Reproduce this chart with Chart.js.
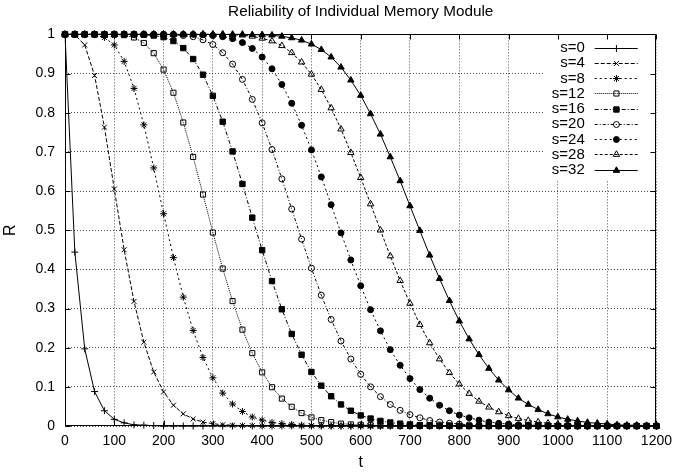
<!DOCTYPE html>
<html>
<head>
<meta charset="utf-8">
<script src="https://cdn.jsdelivr.net/npm/chart.js@4/dist/chart.umd.min.js"></script>
<style>
html,body{margin:0;padding:0;background:#fff;}
canvas{display:block;}
</style>
</head>
<body>
<canvas id="c" width="679" height="476"></canvas>
<script>
// ---- data ----
const T = [0,20,40,60,80,100,120,140,160,180,200,220,240,260,280,300,320,340,360,380,400,
  420,440,460,480,500,520,540,560,580,600,620,640,660,680,700,720,740,760,780,800,
  820,840,860,880,900,920,940,960,980,1000,1020,1040,1060,1080,1100,1120,1140,1160,1180,1200];

const seriesLabels = ["s=0","s=4","s=8","s=12","s=16","s=20","s=24","s=28","s=32"];

const S0 = [1,0.444,0.197,0.088,0.039,0.017,0.008,0.003,0.002,0.001,
  0,0,0,0,0,0,0,0,0,0,0,0,0,0,0,0,0,0,0,0,0,0,0,0,0,0,0,0,0,0,0,0,0,0,0,0,0,0,0,0,0,0,0,0,0,0,0,0,0,0,0];
const S4 = [1,0.999,0.973,0.895,0.763,0.605,0.450,0.318,0.214,0.138,0.087,0.053,0.031,0.018,0.010,0.006,0.003,0.002,0.001,0.001,
  0,0,0,0,0,0,0,0,0,0,0,0,0,0,0,0,0,0,0,0,0,0,0,0,0,0,0,0,0,0,0,0,0,0,0,0,0,0,0,0,0];
const S8 = [1,1,1,0.999,0.992,0.973,0.931,0.862,0.769,0.659,0.542,0.430,0.329,0.244,0.175,0.123,0.084,0.056,0.037,0.023,
  0.015,0.009,0.006,0.004,0.002,0.001,0.001,
  0,0,0,0,0,0,0,0,0,0,0,0,0,0,0,0,0,0,0,0,0,0,0,0,0,0,0,0,0,0,0,0,0,0,0];
const S12 = [1,1,1,1,1,1,0.998,0.992,0.978,0.952,0.910,0.851,0.775,0.687,0.591,0.494,0.402,0.319,0.246,0.186,
  0.137,0.099,0.070,0.049,0.033,0.022,0.015,0.010,0.006,0.004,0.003,0.002,0.001,0.001,
  0,0,0,0,0,0,0,0,0,0,0,0,0,0,0,0,0,0,0,0,0,0,0,0,0,0,0];
const S16 = [1,1,1,1,1,1,1,1,0.999,0.997,0.993,0.983,0.965,0.937,0.897,0.843,0.777,0.701,0.618,0.532,
  0.449,0.370,0.298,0.235,0.182,0.138,0.103,0.076,0.055,0.039,0.027,0.019,0.013,0.009,0.006,0.004,0.002,0.002,0.001,0.001,
  0,0,0,0,0,0,0,0,0,0,0,0,0,0,0,0,0,0,0,0,0];
const S20 = [1,1,1,1,1,1,1,1,1,1,1,0.999,0.997,0.994,0.986,0.974,0.953,0.924,0.885,0.834,
  0.774,0.706,0.631,0.554,0.477,0.403,0.334,0.272,0.217,0.171,0.132,0.100,0.075,0.055,0.040,0.029,0.021,0.014,0.010,0.007,
  0.005,0.003,0.002,0.001,0.001,
  0,0,0,0,0,0,0,0,0,0,0,0,0,0,0,0];
const S24 = [1,1,1,1,1,1,1,1,1,1,1,1,1,1,0.999,0.997,0.994,0.989,0.979,0.964,
  0.942,0.912,0.872,0.824,0.768,0.705,0.636,0.565,0.493,0.424,0.358,0.297,0.243,0.195,0.155,0.121,0.093,0.071,0.053,0.039,
  0.028,0.021,0.015,0.010,0.007,0.005,0.003,0.002,0.002,0.001,
  0,0,0,0,0,0,0,0,0,0,0];
const S28 = [1,1,1,1,1,1,1,1,1,1,1,1,1,1,1,1,1,0.999,0.998,0.995,
  0.990,0.983,0.971,0.953,0.929,0.898,0.859,0.812,0.758,0.698,0.634,0.567,0.500,0.434,0.371,0.313,0.259,0.212,0.171,0.136,
  0.107,0.083,0.063,0.048,0.036,0.026,0.019,0.014,0.010,0.007,0.005,0.004,0.002,0.002,0.001,
  0,0,0,0,0,0];
const S32 = [1,1,1,1,1,1,1,1,1,1,1,1,1,1,1,1,1,1,1,0.999,
  0.999,0.998,0.995,0.991,0.985,0.975,0.961,0.942,0.916,0.883,0.844,0.797,0.745,0.687,0.626,0.562,0.499,0.436,0.376,0.320,
  0.268,0.222,0.182,0.147,0.117,0.092,0.071,0.055,0.042,0.031,0.023,0.017,0.013,0.009,0.007,0.005,0.003,0.002,0.002,0.001,0.001];

const xTicks = [0,100,200,300,400,500,600,700,800,900,1000,1100,1200];
const yTicks = [0,0.1,0.2,0.3,0.4,0.5,0.6,0.7,0.8,0.9,1];

// ---- styles ----
const seriesValues = [S0,S4,S8,S12,S16,S20,S24,S28,S32];
const styles = [
  {ps:'cross',    r:3.5, fill:'rgba(0,0,0,0)', dash:[]},
  {ps:'crossRot', r:3.5, fill:'rgba(0,0,0,0)', dash:[4,2]},
  {ps:'star',     r:3.5, fill:'rgba(0,0,0,0)', dash:[2,3]},
  {ps:'rect',     r:3.6, fill:'rgba(0,0,0,0)', dash:[1,1]},
  {ps:'rect',     r:3.8, fill:'#000',          dash:[4,2,1,2]},
  {ps:'circle',   r:3.0, fill:'rgba(0,0,0,0)', dash:[3,2,1,2]},
  {ps:'circle',   r:3.0, fill:'#000',          dash:[2,3]},
  {ps:'triangle', r:3.7, fill:'rgba(0,0,0,0)', dash:[3,2]},
  {ps:'triangle', r:3.7, fill:'#000',          dash:[]}
];

const datasets = seriesValues.map((vals, i) => ({
  label: seriesLabels[i],
  data: T.map((t, j) => ({x: t, y: vals[j]})),
  borderColor: '#000',
  borderWidth: 1,
  borderDash: styles[i].dash,
  pointStyle: styles[i].ps,
  pointRadius: styles[i].r,
  pointBorderWidth: 1,
  pointBorderColor: '#000',
  pointBackgroundColor: styles[i].fill,
  tension: 0,
  fill: false,
  clip: false
}));

const FONT = '"Liberation Sans", Arial, Helvetica, sans-serif';
Chart.defaults.font.family = FONT;
Chart.defaults.color = '#000';

const gpPlugin = {
  id: 'gnuplotFrame',
  afterLayout(chart) {
    // centre the title over the plot area, as gnuplot does
    const tb = chart.titleBlock, ca = chart.chartArea;
    if (tb && ca) {
      tb.left = ca.left;
      tb.right = ca.right;
      tb.width = ca.right - ca.left;
    }
  },
  afterDatasetsDraw(chart) {
    const {ctx, chartArea: ca} = chart;
    const xs = chart.scales.x, ys = chart.scales.y;
    ctx.save();
    // legend (opaque key box)
    ctx.fillStyle = '#fff';
    ctx.fillRect(ca.right - 112, ca.top, 112, 145);
    ctx.font = '15px ' + FONT;
    ctx.textAlign = 'right';
    ctx.textBaseline = 'middle';
    chart.data.datasets.forEach((ds, i) => {
      const y = ca.top + 13.2 + i * 15.25;
      ctx.fillStyle = '#000';
      ctx.fillText(ds.label, ca.right - 71.7, y + 0.5);
      ctx.strokeStyle = '#000';
      ctx.lineWidth = 1;
      ctx.setLineDash(ds.borderDash || []);
      const ly = Math.round(y) + 0.5;
      ctx.beginPath();
      ctx.moveTo(ca.right - 61.7, ly);
      ctx.lineTo(ca.right - 18.7, ly);
      ctx.stroke();
      ctx.setLineDash([]);
      ctx.fillStyle = ds.pointBackgroundColor;
      ctx.strokeStyle = ds.pointBorderColor;
      ctx.lineWidth = ds.pointBorderWidth;
      if (Chart.helpers && Chart.helpers.drawPoint) {
        Chart.helpers.drawPoint(ctx, {pointStyle: ds.pointStyle, radius: ds.pointRadius, borderWidth: ds.pointBorderWidth, rotation: 0}, ca.right - 40, ly);
      }
    });
    // frame
    ctx.setLineDash([]);
    ctx.strokeStyle = '#000';
    ctx.lineWidth = 1;
    const L = Math.round(ca.left) + 0.5, R = Math.round(ca.right) - 0.5;
    const Tp = Math.round(ca.top) + 0.5, B = Math.round(ca.bottom) - 0.5;
    ctx.strokeRect(L, Tp, R - L, B - Tp);
    // inward ticks on all four sides
    const tl = 5;
    ctx.beginPath();
    xTicks.forEach(v => {
      const x = Math.round(xs.getPixelForValue(v)) + 0.5;
      ctx.moveTo(x, B); ctx.lineTo(x, B - tl);
      ctx.moveTo(x, Tp); ctx.lineTo(x, Tp + tl);
    });
    yTicks.forEach(v => {
      const y = Math.round(ys.getPixelForValue(v)) + 0.5;
      ctx.moveTo(L, y); ctx.lineTo(L + tl, y);
      ctx.moveTo(R, y); ctx.lineTo(R - tl, y);
    });
    ctx.stroke();
    ctx.restore();
  }
};

new Chart(document.getElementById('c'), {
  type: 'line',
  data: {datasets},
  options: {
    responsive: false,
    animation: false,
    devicePixelRatio: 1,
    layout: {padding: {left: 0, right: 17.3, top: 0, bottom: 0}},
    plugins: {
      legend: {display: false},
      tooltip: {enabled: false},
      title: {
        display: true,
        text: 'Reliability of Individual Memory Module',
        color: '#000',
        font: {size: 15.3, weight: 'normal', family: FONT},
        padding: {top: 2.6, bottom: 13.4}
      }
    },
    scales: {
      x: {
        type: 'linear',
        min: 0, max: 1200,
        afterBuildTicks: s => { s.ticks = xTicks.map(v => ({value: v})); },
        afterFit: s => { s.height = 50; },
        ticks: {font: {size: 14}, color: '#000', padding: 7, maxRotation: 0, autoSkip: false, callback: v => String(v)},
        grid: {color: 'rgba(0,0,0,0.7)', lineWidth: 1, drawTicks: false},
        border: {display: false, dash: [1, 2]},
        title: {display: true, text: 't', font: {size: 16}, color: '#000', padding: {top: 0, bottom: 4}}
      },
      y: {
        type: 'linear',
        min: 0, max: 1,
        afterBuildTicks: s => { s.ticks = yTicks.map(v => ({value: v})); },
        afterFit: s => { s.width = 65; },
        ticks: {font: {size: 14}, color: '#000', padding: 10, callback: v => String(+v.toFixed(1))},
        grid: {color: 'rgba(0,0,0,0.7)', lineWidth: 1, drawTicks: false},
        border: {display: false, dash: [1, 2]},
        title: {display: true, text: 'R', font: {size: 16}, color: '#000', padding: {top: 0.5, bottom: 0}}
      }
    }
  },
  plugins: [gpPlugin]
});
</script>
</body>
</html>
